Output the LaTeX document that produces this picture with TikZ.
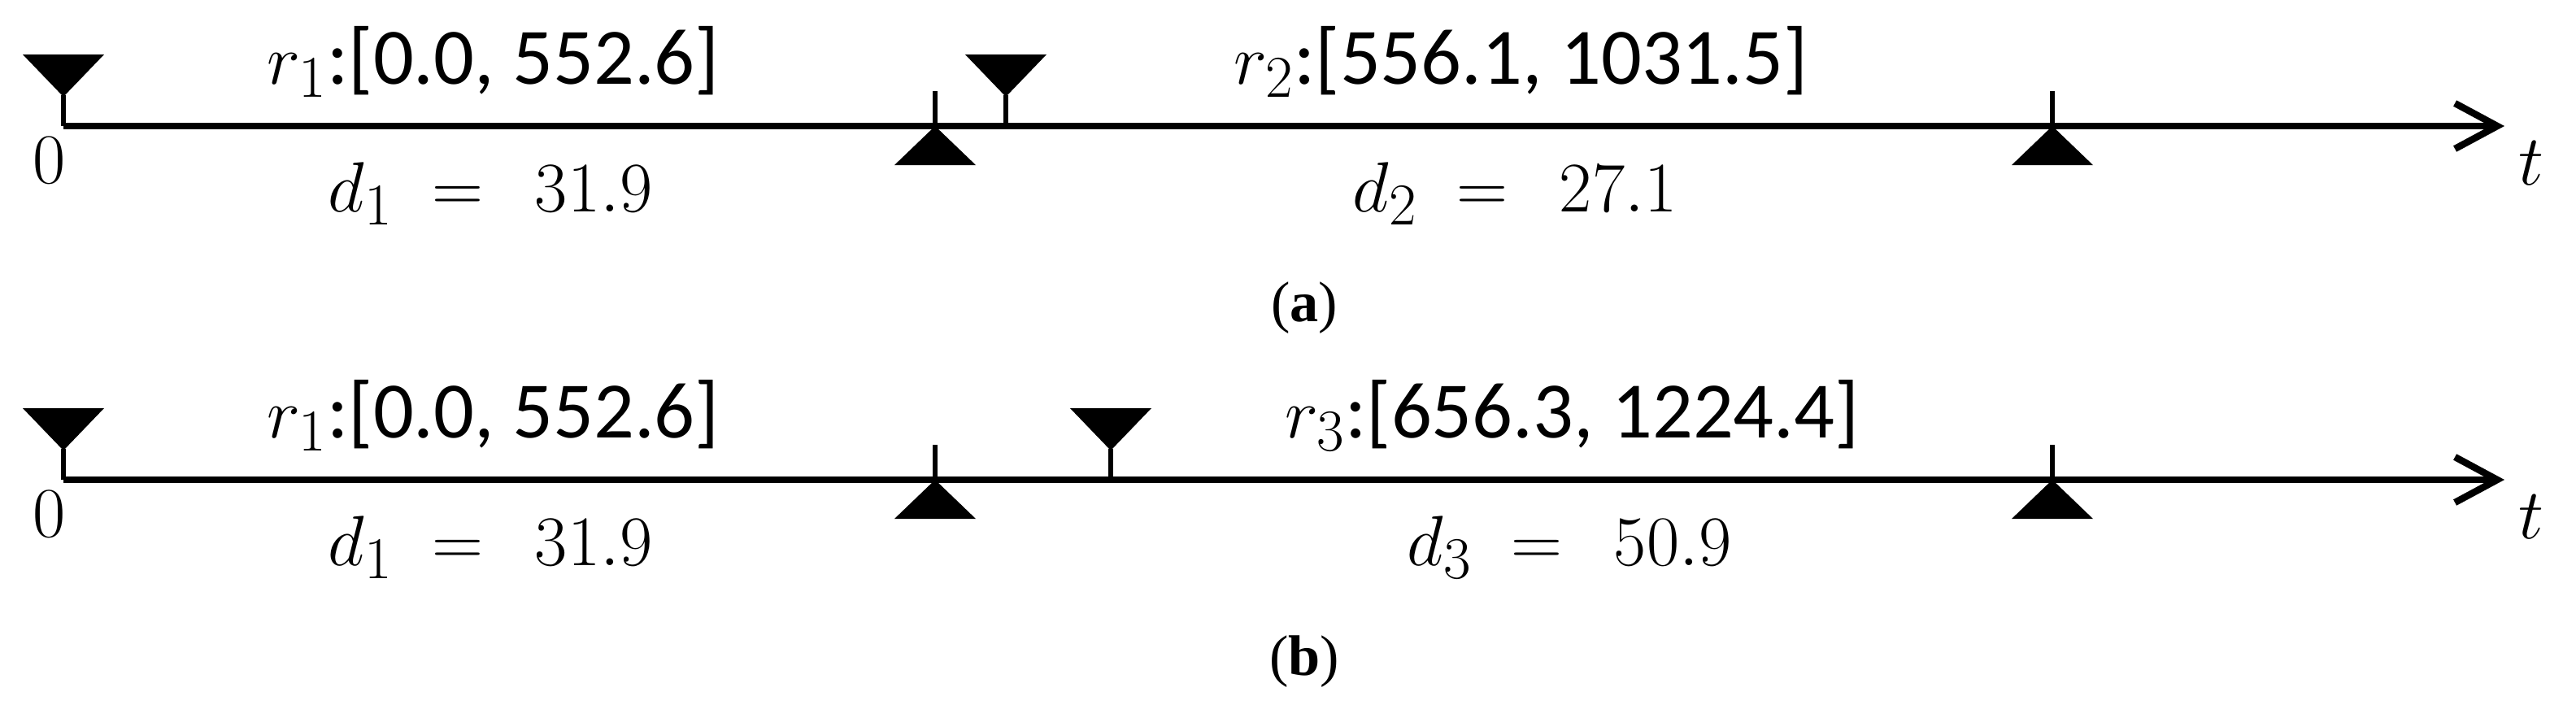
\documentclass[tikz,border=0pt]{standalone}
\usepackage{fontspec}
\setmainfont{Liberation Serif}
\newfontfamily\intervalfont{Carlito}
\usetikzlibrary{arrows.meta}
\tikzstyle{marker}=[fill=black]
\tikzstyle{timeaxis}=[line width=2.3pt, -{Straight Barb[length=0.52cm, width=0.56cm, line width=2.4pt]}]
\tikzstyle{stem}=[line width=1.8pt]
\tikzstyle{interval}=[inner sep=0, anchor=base west, font=\intervalfont\fontsize{28}{33}\selectfont]
\tikzstyle{duration}=[inner sep=0, anchor=base west, font=\fontsize{28}{33}\selectfont]
\tikzstyle{tick}=[inner sep=0, anchor=base, font=\fontsize{27}{32}\selectfont]
\tikzstyle{caption}=[inner sep=0, anchor=base, font=\fontsize{20}{24}\selectfont]

\begin{document}
\begin{tikzpicture}
    \useasboundingbox (0, 0) rectangle (31.68, -8.82);
    % (a)
    \coordinate (Oa) at (0.78, -1.55);
    \coordinate (Ea) at (30.80, -1.55);
    \coordinate (R1atop) at (0.78, -0.67);
    \coordinate (R1atip) at (0.78, -1.17);
    \coordinate (R2atop) at (12.37, -0.67);
    \coordinate (R2atip) at (12.37, -1.17);
    \coordinate (R2aaxis) at (12.37, -1.55);
    \coordinate (D1aaxis) at (11.50, -1.55);
    \coordinate (D1atop) at (11.50, -1.12);
    \coordinate (D2aaxis) at (25.24, -1.55);
    \coordinate (D2atop) at (25.24, -1.12);
    \draw[timeaxis] (Oa) -- (Ea);
    \fill[marker] (R1atop) +(-0.5, 0) -- +(0.5, 0) -- +(0, -0.52) -- cycle;
    \fill[marker] (R2atop) +(-0.5, 0) -- +(0.5, 0) -- +(0, -0.52) -- cycle;
    \fill[marker] (D1aaxis) -- +(0.5, -0.48) -- +(-0.5, -0.48) -- cycle;
    \fill[marker] (D2aaxis) -- +(0.5, -0.48) -- +(-0.5, -0.48) -- cycle;
    \draw[stem] (R1atip) -- (Oa);
    \draw[stem] (R2atip) -- (R2aaxis);
    \draw[stem] (D1aaxis) -- (D1atop);
    \draw[stem] (D2aaxis) -- (D2atop);
    \node[tick] (zeroa) at (0.61, -2.25) {$0$};
    \node[tick] (ta) at (31.13, -2.27) {$t$};
    \node[interval] (r1a) at (3.28, -1.03) {$r_1$:[0.0, 552.6]};
    \node[interval] (r2a) at (15.17, -1.03) {$r_2$:[556.1, 1031.5]};
    \node[duration] (d1a) at (4.03, -2.60) {$d_1 \;=\;\, 31.9$};
    \node[duration] (d2a) at (16.63, -2.60) {$d_2 \;=\;\, 27.1$};
    \node[caption] (capa) at (16.04, -3.95) {(\textbf{a})};
    % (b)
    \coordinate (Ob) at (0.78, -5.90);
    \coordinate (Eb) at (30.80, -5.90);
    \coordinate (R1btop) at (0.78, -5.02);
    \coordinate (R1btip) at (0.78, -5.52);
    \coordinate (R3btop) at (13.66, -5.02);
    \coordinate (R3btip) at (13.66, -5.52);
    \coordinate (R3baxis) at (13.66, -5.90);
    \coordinate (D1baxis) at (11.50, -5.90);
    \coordinate (D1btop) at (11.50, -5.47);
    \coordinate (D3baxis) at (25.24, -5.90);
    \coordinate (D3btop) at (25.24, -5.47);
    \draw[timeaxis] (Ob) -- (Eb);
    \fill[marker] (R1btop) +(-0.5, 0) -- +(0.5, 0) -- +(0, -0.52) -- cycle;
    \fill[marker] (R3btop) +(-0.5, 0) -- +(0.5, 0) -- +(0, -0.52) -- cycle;
    \fill[marker] (D1baxis) -- +(0.5, -0.48) -- +(-0.5, -0.48) -- cycle;
    \fill[marker] (D3baxis) -- +(0.5, -0.48) -- +(-0.5, -0.48) -- cycle;
    \draw[stem] (R1btip) -- (Ob);
    \draw[stem] (R3btip) -- (R3baxis);
    \draw[stem] (D1baxis) -- (D1btop);
    \draw[stem] (D3baxis) -- (D3btop);
    \node[tick] (zerob) at (0.61, -6.60) {$0$};
    \node[tick] (tb) at (31.13, -6.62) {$t$};
    \node[interval] (r1b) at (3.28, -5.38) {$r_1$:[0.0, 552.6]};
    \node[interval] (r3b) at (15.80, -5.38) {$r_3$:[656.3, 1224.4]};
    \node[duration] (d1b) at (4.03, -6.95) {$d_1 \;=\;\, 31.9$};
    \node[duration] (d3b) at (17.30, -6.95) {$d_3 \;=\;\, 50.9$};
    \node[caption] (capb) at (16.04, -8.30) {(\textbf{b})};
\end{tikzpicture}
\end{document}
